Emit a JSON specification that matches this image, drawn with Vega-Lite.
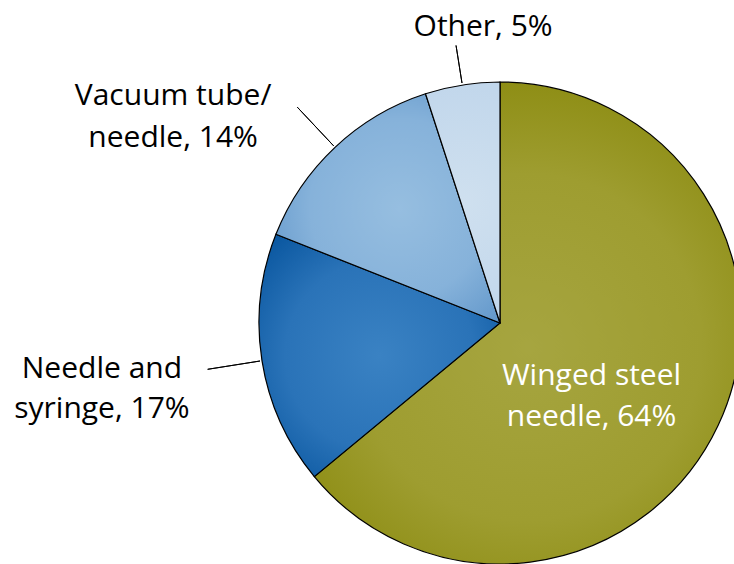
{
  "$schema": "https://vega.github.io/schema/vega-lite/v6.json",
  "width": 482,
  "height": 482,
  "autosize": {"type": "none"},
  "padding": {"left": 259, "top": 82, "right": 0, "bottom": 0},
  "background": "white",
  "config": {"view": {"stroke": null}},
  "data": {
    "values": [
      {"category": "Winged steel needle", "pct": 64, "order": 1, "label": "Winged steel\nneedle, 64%"},
      {"category": "Needle and syringe", "pct": 17, "order": 2, "label": "Needle and\nsyringe, 17%"},
      {"category": "Vacuum tube/needle", "pct": 14, "order": 3, "label": "Vacuum tube/\nneedle, 14%"},
      {"category": "Other", "pct": 5, "order": 4, "label": "Other, 5%"}
    ]
  },
  "transform": [
    {"stack": "pct", "groupby": [], "sort": [{"field": "order", "order": "ascending"}], "as": ["s0", "s1"]},
    {"calculate": "(datum.s0 + datum.s1) / 2", "as": "mid"}
  ],
  "layer": [
    {
      "transform": [{"filter": "datum.category === 'Winged steel needle'"}],
      "mark": {"type": "arc", "stroke": "black", "strokeWidth": 1.2,
        "fill": {"gradient": "radial", "x1": 0.5, "y1": 0.55, "r1": 0, "x2": 0.5, "y2": 0.55, "r2": 0.6,
          "stops": [{"offset": 0, "color": "#a6a540"}, {"offset": 0.6, "color": "#9e9d30"}, {"offset": 1, "color": "#8a8a0e"}]}},
      "encoding": {
        "theta": {"field": "s0", "type": "quantitative", "stack": null, "scale": {"domain": [0, 100]}},
        "theta2": {"field": "s1"}
      }
    },
    {
      "transform": [{"filter": "datum.category === 'Needle and syringe'"}],
      "mark": {"type": "arc", "stroke": "black", "strokeWidth": 1.2,
        "fill": {"gradient": "radial", "x1": 0.5, "y1": 0.5, "r1": 0, "x2": 0.5, "y2": 0.5, "r2": 0.65,
          "stops": [{"offset": 0, "color": "#3a82c3"}, {"offset": 0.6, "color": "#2a73b8"}, {"offset": 1, "color": "#0a57a0"}]}},
      "encoding": {
        "theta": {"field": "s0", "type": "quantitative", "stack": null, "scale": {"domain": [0, 100]}},
        "theta2": {"field": "s1"}
      }
    },
    {
      "transform": [{"filter": "datum.category === 'Vacuum tube/needle'"}],
      "mark": {"type": "arc", "stroke": "black", "strokeWidth": 1.2,
        "fill": {"gradient": "radial", "x1": 0.55, "y1": 0.5, "r1": 0, "x2": 0.55, "y2": 0.5, "r2": 0.65,
          "stops": [{"offset": 0, "color": "#96bee0"}, {"offset": 0.6, "color": "#86b2da"}, {"offset": 1, "color": "#6398cb"}]}},
      "encoding": {
        "theta": {"field": "s0", "type": "quantitative", "stack": null, "scale": {"domain": [0, 100]}},
        "theta2": {"field": "s1"}
      }
    },
    {
      "transform": [{"filter": "datum.category === 'Other'"}],
      "mark": {"type": "arc", "stroke": "black", "strokeWidth": 1.2,
        "fill": {"gradient": "radial", "x1": 0.5, "y1": 0.5, "r1": 0, "x2": 0.5, "y2": 0.5, "r2": 0.7,
          "stops": [{"offset": 0, "color": "#cfe0ef"}, {"offset": 1, "color": "#bcd3ea"}]}},
      "encoding": {
        "theta": {"field": "s0", "type": "quantitative", "stack": null, "scale": {"domain": [0, 100]}},
        "theta2": {"field": "s1"}
      }
    },
    {
      "transform": [{"filter": "datum.category === 'Other'"}],
      "mark": {"type": "arc", "radius": 243, "radius2": 281, "filled": false, "stroke": "black", "strokeWidth": 1},
      "encoding": {
        "theta": {"field": "mid", "type": "quantitative", "stack": null, "scale": {"domain": [0, 100]}},
        "theta2": {"field": "mid"}
      }
    },
    {
      "transform": [{"filter": "datum.category === 'Vacuum tube/needle' || datum.category === 'Needle and syringe'"}],
      "mark": {"type": "arc", "radius": 243, "radius2": 296, "filled": false, "stroke": "black", "strokeWidth": 1},
      "encoding": {
        "theta": {"field": "mid", "type": "quantitative", "stack": null, "scale": {"domain": [0, 100]}},
        "theta2": {"field": "mid"}
      }
    },
    {
      "transform": [{"filter": "datum.category === 'Winged steel needle'"}],
      "mark": {"type": "text", "radius": 110, "dx": -8, "dy": -9, "font": "Open Sans", "fontSize": 30, "lineBreak": "\n", "lineHeight": 41, "align": "center", "baseline": "top", "color": "white"},
      "encoding": {
        "theta": {"field": "mid", "type": "quantitative", "stack": null, "scale": {"domain": [0, 100]}},
        "text": {"field": "label"}
      }
    },
    {
      "transform": [{"filter": "datum.category === 'Needle and syringe'"}],
      "mark": {"type": "text", "radius": 400, "dx": -3, "dy": -32, "font": "Open Sans", "fontSize": 30, "lineBreak": "\n", "lineHeight": 40, "align": "center", "baseline": "top", "color": "black"},
      "encoding": {
        "theta": {"field": "mid", "type": "quantitative", "stack": null, "scale": {"domain": [0, 100]}},
        "text": {"field": "label"}
      }
    },
    {
      "transform": [{"filter": "datum.category === 'Vacuum tube/needle'"}],
      "mark": {"type": "text", "radius": 330, "dx": -101, "dy": -1, "font": "Open Sans", "fontSize": 30, "lineBreak": "\n", "lineHeight": 42, "align": "center", "baseline": "top", "color": "black"},
      "encoding": {
        "theta": {"field": "mid", "type": "quantitative", "stack": null, "scale": {"domain": [0, 100]}},
        "text": {"field": "label"}
      }
    },
    {
      "transform": [{"filter": "datum.category === 'Other'"}],
      "mark": {"type": "text", "radius": 300, "dx": 30, "dy": 0, "font": "Open Sans", "fontSize": 30, "align": "center", "baseline": "middle", "color": "black"},
      "encoding": {
        "theta": {"field": "mid", "type": "quantitative", "stack": null, "scale": {"domain": [0, 100]}},
        "text": {"field": "label"}
      }
    }
  ]
}
